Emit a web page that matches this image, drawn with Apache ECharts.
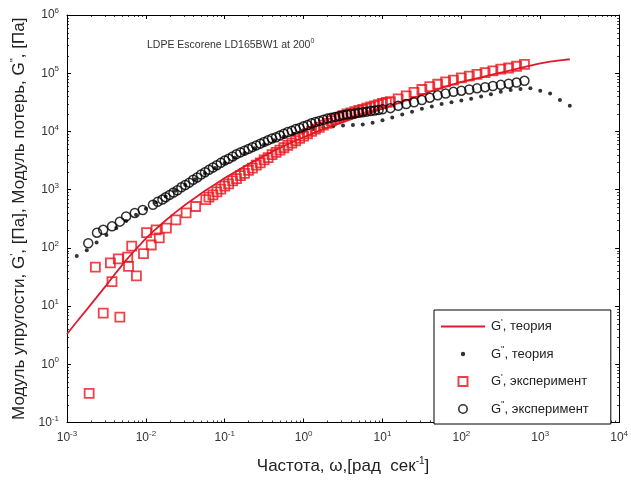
<!DOCTYPE html>
<html><head><meta charset="utf-8">
<script src="https://cdn.jsdelivr.net/npm/echarts@6/dist/echarts.min.js"></script>
<style>html,body{margin:0;padding:0;background:#fff}#c{width:631px;height:480px}</style>
</head><body><div id="c"></div>
<script>
// ---- data ----
const freqTheory = [0.001,0.00133,0.00178,0.00237,0.00316,0.00422,0.00562,0.0075,
  0.01,0.0133,0.0178,0.0237,0.0316,0.0422,0.0562,0.075,
  0.1,0.133,0.178,0.237,0.316,0.422,0.562,0.75,
  1,1.33,1.78,2.37,3.16,4.22,5.62,7.5,
  10,13.3,17.8,23.7,31.6,42.2,56.2,75,
  100,133,178,237,316,422,562,750,
  1000,1334,1778,2371];
const gPrimeTheory = [3.31,5.37,8.71,14.1,22.9,38.0,61.7,95.5,
  145,209,295,407,550,724,955,1230,
  1585,1995,2512,3090,3802,4677,5623,6761,
  7943,9333,10960,12590,14450,16600,19050,21380,
  24550,28180,32360,37150,42660,48980,56230,63100,
  70790,77620,85110,93330,102300,112200,123000,134900,
  147900,158500,166000,173800];
const freqG2Theory = [0.00133,0.00178,0.00237,0.00316,0.00422,0.00562,0.0075,
  0.01,0.0133,0.0178,0.0237,0.0316,0.0422,0.0562,0.075,
  0.1,0.133,0.178,0.237,0.316,0.422,0.562,0.75,
  1,1.33,1.78,2.37,3.16,4.22,5.62,7.5,
  10,13.3,17.8,23.7,31.6,42.2,56.2,75,
  100,133,178,237,316,422,562,750,
  1000,1334,1778,2371];
const gDoublePrimeTheory = [72.4,91.2,123,166,219,288,372,
  468,603,759,955,1202,1514,1905,2344,
  2884,3548,4266,5129,6026,7079,8128,9120,
  10000,10960,11750,12300,12590,12880,13180,14130,
  15490,17380,19500,21880,24550,26920,29510,31620,
  33880,36310,39810,43650,47860,51290,53700,54950,
  50120,44670,34670,27540];
const freqG1Exp = [0.00191,0.00229,0.00288,0.00355,0.00372,0.00447,0.00468,0.00589,0.00603,
  0.00661,0.00759,0.00933,0.0102,0.0117,0.0135,0.0148,0.0182,0.024,0.0324,0.0427,0.0575,
  0.0631,0.0708,0.0794,0.0891,0.1,0.112,0.126,0.141,0.158,0.178,
  0.2,0.224,0.251,0.282,0.316,0.355,0.398,0.447,0.501,0.562,
  0.631,0.708,0.794,0.891,1,1.12,1.26,1.41,1.58,1.78,
  2.0,2.24,2.51,2.82,3.16,3.55,3.98,4.47,5.01,5.62,
  6.31,7.08,7.94,8.91,10,11.2,12.6,
  15.8,20,25.1,31.6,39.8,50.1,63.1,79.4,
  100,126,158,200,251,316,398,501,631];
const gPrimeExp = [0.316,46.8,7.59,55.0,26.3,64.6,6.46,69.2,47.9,
  107,33.1,79.4,182,112,204,148,219,302,398,513,676,
  741,813,912,1023,1148,1259,1413,1549,1738,1905,
  2138,2344,2630,2884,3236,3548,3981,4365,4786,5248,
  5754,6310,6918,7586,8318,9120,10000,10960,11750,12880,
  13800,15140,16220,17380,18620,19950,20890,21880,22910,23990,
  25120,26300,27540,28840,30200,31620,32360,
  36310,40740,46770,52480,58880,64570,70790,75860,
  83180,89130,95500,102300,109600,117500,123000,131800,141300];
const freqG2Exp = [0.00186,0.0024,0.00288,0.00372,0.00468,0.00562,0.00724,0.00912,0.0123,
  0.0141,0.0162,0.0178,0.02,0.0224,0.0251,0.0282,0.0316,0.0355,0.0398,
  0.0447,0.0501,0.0562,0.0631,0.0708,0.0794,0.0891,0.1,0.112,0.126,
  0.141,0.158,0.178,0.2,0.224,0.251,0.282,0.316,0.355,0.398,
  0.447,0.501,0.562,0.631,0.708,0.794,0.891,1,1.12,1.26,
  1.41,1.58,1.78,2.0,2.24,2.51,2.82,3.16,3.55,3.98,
  4.47,5.01,5.62,6.31,7.08,7.94,8.91,10,
  12.6,15.8,20,25.1,31.6,39.8,50.1,63.1,79.4,
  100,126,158,200,251,316,398,501,631];
const gDoublePrimeExp = [120,182,204,234,282,347,398,447,550,
  617,676,741,813,891,977,1096,1202,1318,1479,
  1622,1820,1995,2188,2399,2630,2884,3162,3388,3715,
  4074,4365,4677,5012,5370,5754,6166,6607,7079,7586,
  7943,8511,9120,9772,10230,10960,11480,12300,12880,13800,
  14450,15140,15850,16600,17180,17780,18410,19050,19500,19950,
  20420,20890,21380,21880,22390,22910,23440,23990,
  25120,27540,29510,31620,34670,38020,41690,44670,47860,
  50120,52480,54950,57540,60260,63100,66070,69180,74130];
const seriesNames = ["G', теория", "G'', теория", "G', эксперимент", "G'', эксперимент"];
const xTitle = ['Частота, ω,[рад  сек', '-1', ']'];
const yTitle = ['Модуль упругости, G', "'", ', [Па], Модуль потерь, G', "''", ', [Па]'];
const noteText = ['LDPE Escorene LD165BW1 at 200', '0'];

// ---- chart ----
const FONT = 'Liberation Sans, Arial, sans-serif';
const RED_LINE = '#dc1c30';
const RED_SQ = '#e8141c';
const zip = (a, b) => a.map((v, i) => [v, b[i]]);
const svgIcon = s => 'image://data:image/svg+xml;charset=utf-8,' + encodeURIComponent(
  '<svg xmlns="http://www.w3.org/2000/svg" width="46" height="14" viewBox="0 0 46 14">' + s + '</svg>');
const icons = [
  svgIcon('<line x1="1" y1="7" x2="45" y2="7" stroke="' + RED_LINE + '" stroke-width="2"/>'),
  svgIcon('<circle cx="23" cy="7" r="2.2" fill="#000"/>'),
  svgIcon('<rect x="18.5" y="2.5" width="9" height="9" fill="none" stroke="' + RED_SQ + '" stroke-width="2"/>'),
  svgIcon('<circle cx="23" cy="7" r="4.2" fill="none" stroke="#000" stroke-width="1.6"/>')
];
const expLabel = v => {
  const e = Math.round(Math.log10(v));
  return '{b|10}{e|' + e + '}';
};
const labelRich = {
  b: { fontSize: 12, fontFamily: FONT, color: '#333' },
  e: { fontSize: 8, fontFamily: FONT, color: '#333', padding: [0, 0, 8, 0] }
};
const legendFmt = name => {
  const m = name.match(/^G('+), (.*)$/);
  return '{g|G}{p|' + m[1] + '}{t|, ' + m[2] + '}';
};

const chart = echarts.init(document.getElementById('c'), null, { renderer: 'canvas' });
const axisCommon = {
  type: 'log', logBase: 10,
  axisLine: { show: true, lineStyle: { color: '#000', width: 1 } },
  axisTick: { show: true, inside: true, length: 4, lineStyle: { color: '#000' } },
  splitLine: { show: false }
};
chart.setOption({
  animation: false,
  backgroundColor: '#fff',
  grid: { left: 67, right: 7, top: 15, bottom: 52 },
  xAxis: [
    Object.assign({}, axisCommon, {
      min: 0.001, max: 10000, splitNumber: 7, position: 'bottom',
      axisLabel: { margin: 7, formatter: expLabel, rich: labelRich },
      name: '{n|' + xTitle[0] + '}{s|' + xTitle[1] + '}{n|' + xTitle[2] + '}',
      nameLocation: 'middle', nameGap: 34,
      nameTextStyle: { rich: {
        n: { fontSize: 17, fontFamily: FONT, color: '#222' },
        s: { fontSize: 10, fontFamily: FONT, color: '#222', padding: [0, 0, 10, 0] } } }
    }),
    Object.assign({}, axisCommon, {
      min: 0.001, max: 10000, splitNumber: 7, position: 'top', axisLabel: { show: false }
    })
  ],
  yAxis: [
    Object.assign({}, axisCommon, {
      min: 0.1, max: 1000000, splitNumber: 7, position: 'left',
      axisLabel: { margin: 8, formatter: expLabel, rich: labelRich },
      name: '{n|' + yTitle[0] + '}{s|' + yTitle[1] + '}{n|' + yTitle[2] + '}{s|' + yTitle[3] + '}{n|' + yTitle[4] + '}',
      nameLocation: 'middle', nameGap: 38,
      nameTextStyle: { rich: {
        n: { fontSize: 17, fontFamily: FONT, color: '#222' },
        s: { fontSize: 11, fontFamily: FONT, color: '#222', padding: [0, 0, 9, 0] } } }
    }),
    Object.assign({}, axisCommon, {
      min: 0.1, max: 1000000, splitNumber: 7, position: 'right', axisLabel: { show: false }
    })
  ],
  legend: {
    orient: 'vertical', left: 434, top: 310,
    itemWidth: 46, itemHeight: 14, itemGap: 12,
    padding: [8, 22, 8, 6],
    borderColor: '#000', borderWidth: 1, backgroundColor: '#fff',
    data: seriesNames.map((n, i) => ({ name: n, icon: icons[i] })),
    formatter: legendFmt,
    textStyle: { rich: {
      g: { fontSize: 13, fontFamily: FONT, color: '#222' },
      p: { fontSize: 9, fontFamily: FONT, color: '#222', padding: [0, 0, 8, 0] },
      t: { fontSize: 13, fontFamily: FONT, color: '#222' } } }
  },
  graphic: [{
    type: 'text', left: 147, top: 38,
    style: {
      text: '{a|' + noteText[0] + '}{b|' + noteText[1] + '}',
      rich: {
        a: { fontSize: 10.5, fontFamily: FONT, fill: '#333' },
        b: { fontSize: 7, fontFamily: FONT, fill: '#333', padding: [0, 0, 7, 0] }
      }
    }
  }],
  series: [
    { name: seriesNames[0], type: 'line', data: zip(freqTheory, gPrimeTheory), symbol: 'none',
      lineStyle: { color: RED_LINE, width: 1.8 }, itemStyle: { color: RED_LINE }, z: 2 },
    { name: seriesNames[1], type: 'scatter', data: zip(freqG2Theory, gDoublePrimeTheory),
      symbol: 'circle', symbolSize: 4, itemStyle: { color: '#000' }, z: 3 },
    { name: seriesNames[2], type: 'scatter', data: zip(freqG1Exp, gPrimeExp),
      symbol: 'rect', symbolSize: 9,
      itemStyle: { color: 'rgba(0,0,0,0)', borderColor: RED_SQ, borderWidth: 1.8 }, z: 4 },
    { name: seriesNames[3], type: 'scatter', data: zip(freqG2Exp, gDoublePrimeExp),
      symbol: 'circle', symbolSize: 9,
      itemStyle: { color: 'rgba(0,0,0,0)', borderColor: '#000', borderWidth: 1.5 }, z: 5 }
  ]
});

// log-spaced minor ticks on all four sides, placed through the axes' own scales
(function addMinorTicks() {
  const g = [];
  const x0 = chart.convertToPixel({ xAxisIndex: 0 }, 0.001);
  const x1 = chart.convertToPixel({ xAxisIndex: 0 }, 10000);
  const yb = chart.convertToPixel({ yAxisIndex: 0 }, 0.1);
  const yt = chart.convertToPixel({ yAxisIndex: 0 }, 1000000);
  for (let d = -3; d < 4; d++) for (let m = 2; m <= 9; m++) {
    const x = Math.round(chart.convertToPixel({ xAxisIndex: 0 }, m * Math.pow(10, d))) + 0.5;
    g.push({ type: 'line', shape: { x1: x, y1: yb, x2: x, y2: yb - 2 }, style: { stroke: '#444', lineWidth: 1 }, silent: true });
    g.push({ type: 'line', shape: { x1: x, y1: yt, x2: x, y2: yt + 2 }, style: { stroke: '#444', lineWidth: 1 }, silent: true });
  }
  for (let d = -1; d < 6; d++) for (let m = 2; m <= 9; m++) {
    const y = Math.round(chart.convertToPixel({ yAxisIndex: 0 }, m * Math.pow(10, d))) + 0.5;
    g.push({ type: 'line', shape: { x1: x0, y1: y, x2: x0 + 2, y2: y }, style: { stroke: '#444', lineWidth: 1 }, silent: true });
    g.push({ type: 'line', shape: { x1: x1, y1: y, x2: x1 - 2, y2: y }, style: { stroke: '#444', lineWidth: 1 }, silent: true });
  }
  const opt = chart.getOption();
  chart.setOption({ graphic: opt.graphic[0].elements.concat(g) });
})();
</script>
</body></html>
